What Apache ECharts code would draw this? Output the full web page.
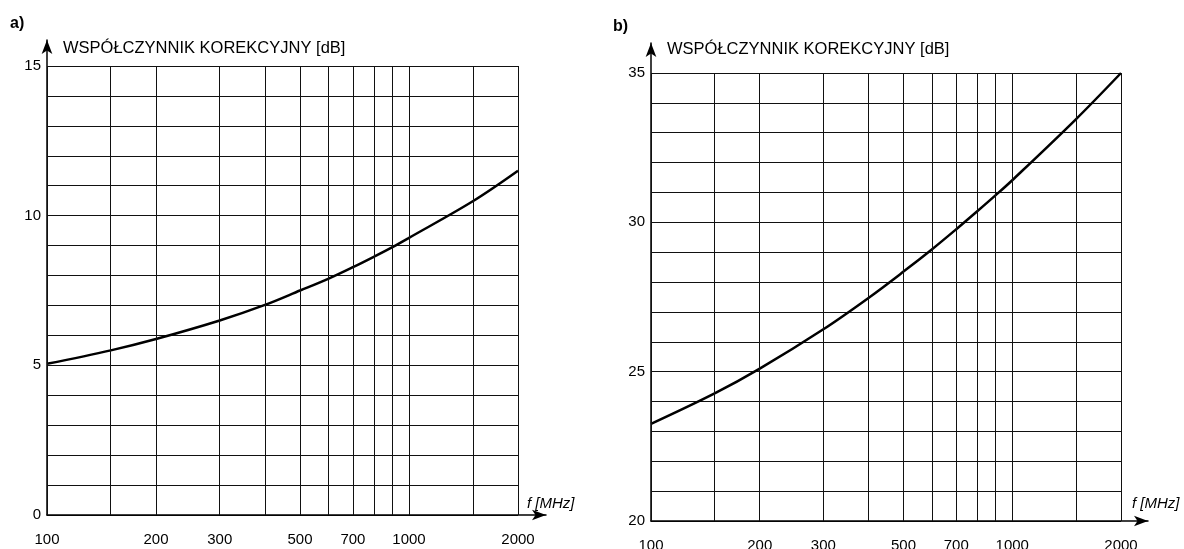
<!DOCTYPE html>
<html>
<head>
<meta charset="utf-8">
<title>Współczynnik korekcyjny</title>
<script src="https://cdn.jsdelivr.net/npm/echarts@6/dist/echarts.min.js"></script>
<style>
  html, body { margin: 0; padding: 0; background: #fff; }
  #chart { width: 1184px; height: 549px; }
</style>
</head>
<body>
<div id="chart"></div>
<script>
// Frequencies (MHz) at which the correction curves are read
const freqMHz = [100, 150, 200, 300, 400, 500, 600, 700, 800, 900, 1000, 1500, 2000];
// Correction factor, panel a) [dB]
const corrA = [5.05, 5.5, 5.88, 6.5, 7.02, 7.5, 7.9, 8.28, 8.63, 8.95, 9.26, 10.48, 11.5];
// Correction factor, panel b) [dB]
const corrB = [23.25, 24.27, 25.1, 26.42, 27.47, 28.35, 29.1, 29.77, 30.37, 30.91, 31.41, 33.45, 35.0];

// Vertical grid lines (log frequency scale) and the frequencies that get a label
const gridFreqs = [100, 150, 200, 300, 400, 500, 600, 700, 800, 900, 1000, 1500, 2000];
const freqLabels = [100, 200, 300, 500, 700, 1000, 2000];

// Y ranges and labelled values
const yRangeA = [0, 15];
const yRangeB = [20, 35];
const yLabelsA = [0, 5, 10, 15];
const yLabelsB = [20, 25, 30, 35];

const yTitle = 'WSPÓŁCZYNNIK KOREKCYJNY [dB]';
const xTitle = 'f [MHz]';
const panelNames = ['a)', 'b)'];

const FONT = '"Liberation Sans", Arial, Helvetica, sans-serif';
const INK = '#111';

const chart = echarts.init(document.getElementById('chart'), null, { renderer: 'canvas' });

function gridMarkLine() {
  return {
    silent: true,
    symbol: ['none', 'none'],
    animation: false,
    lineStyle: { color: INK, width: 1, type: 'solid' },
    label: {
      show: true,
      position: 'start',
      distance: 17,
      color: '#000',
      fontFamily: FONT,
      fontSize: 15,
      formatter: p => String(p.value)
    },
    emphasis: { disabled: true },
    data: gridFreqs.map(f => ({
      xAxis: f,
      label: { show: freqLabels.indexOf(f) !== -1 }
    }))
  };
}

function plotYAxis(gridIndex, range, labels) {
  return {
    type: 'value', gridIndex,
    min: range[0], max: range[1], interval: 1,
    axisLine: { show: false }, axisTick: { show: false },
    axisLabel: {
      color: '#000', fontFamily: FONT, fontSize: 15, margin: 6,
      formatter: v => (labels.indexOf(v) !== -1 ? String(v) : '')
    },
    splitLine: { show: true, lineStyle: { color: INK, width: 1 } }
  };
}

function plotXAxis(gridIndex) {
  return {
    type: 'log', logBase: 10, gridIndex,
    min: 100, max: 2000,
    axisLine: { show: false }, axisTick: { show: false },
    axisLabel: { show: false }, splitLine: { show: false }
  };
}

function arrowAxis(kind, gridIndex) {
  return {
    type: 'value', gridIndex, min: 0, max: 1,
    position: kind === 'x' ? 'bottom' : 'left',
    axisLine: {
      show: true, onZero: false,
      symbol: ['none', 'arrow'], symbolSize: [8, 14],
      lineStyle: { color: '#000', width: 1.5 }
    },
    axisTick: { show: false }, axisLabel: { show: false }, splitLine: { show: false }
  };
}

function curve(xi, yi, values) {
  return {
    type: 'line',
    xAxisIndex: xi, yAxisIndex: yi,
    data: freqMHz.map((f, i) => [f, values[i]]),
    smooth: 0.35,
    showSymbol: false,
    silent: true,
    animation: false,
    lineStyle: { color: '#000', width: 2.5 },
    markLine: gridMarkLine(),
    z: 3
  };
}

const textStyle = { color: '#000', fontFamily: FONT, fontSize: 16.5, fontWeight: 'normal' };
const axisNameStyle = Object.assign({}, textStyle, { fontStyle: 'italic', fontSize: 15 });
const panelNameStyle = Object.assign({}, textStyle, { fontWeight: 'bold', fontSize: 16 });

function label(text, left, top, style) {
  return { text, left, top, padding: 0, textStyle: style };
}

chart.setOption({
  backgroundColor: '#fff',
  animation: false,
  title: [
    label(panelNames[0], 10, 16, panelNameStyle),
    label(yTitle, 63, 40, textStyle),
    label(xTitle, 527, 496, axisNameStyle),
    label(panelNames[1], 613, 19, panelNameStyle),
    label(yTitle, 667, 41, textStyle),
    label(xTitle, 1132, 496, axisNameStyle)
  ],
  grid: [
    { left: 47, top: 66, width: 471, height: 449 },   // plot a
    { left: 47, top: 40, width: 499, height: 475 },   // axes with arrows a
    { left: 651, top: 73, width: 470, height: 448 },  // plot b
    { left: 651, top: 43, width: 497, height: 478 }   // axes with arrows b
  ],
  xAxis: [
    plotXAxis(0),
    arrowAxis('x', 1),
    plotXAxis(2),
    arrowAxis('x', 3)
  ],
  yAxis: [
    plotYAxis(0, yRangeA, yLabelsA),
    arrowAxis('y', 1),
    plotYAxis(2, yRangeB, yLabelsB),
    arrowAxis('y', 3)
  ],
  series: [
    curve(0, 0, corrA),
    curve(2, 2, corrB)
  ]
});
</script>
</body>
</html>
